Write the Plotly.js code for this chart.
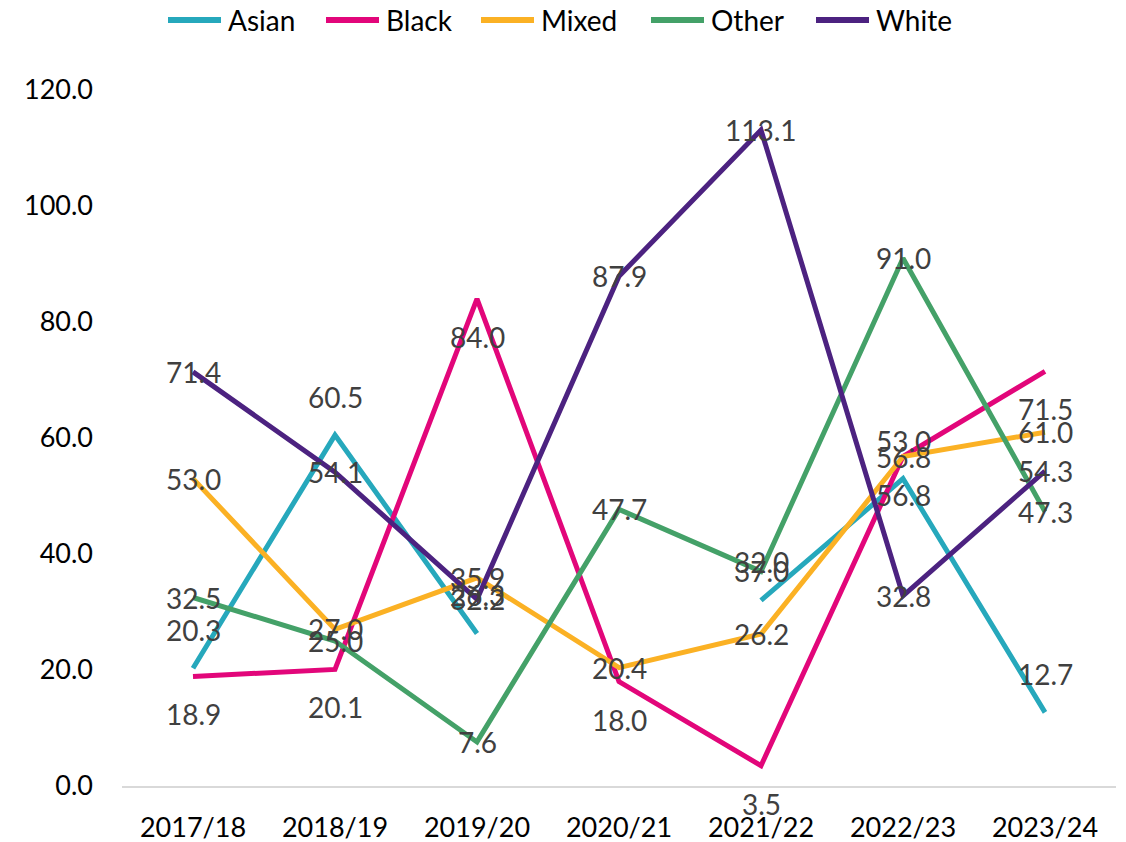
<!DOCTYPE html>
<html>
<head>
<meta charset="utf-8">
<script src="https://cdn.plot.ly/plotly-3.0.1.min.js"></script>
<style>
  html, body { margin: 0; padding: 0; background: #fff; }
  #chart { width: 1126px; height: 842px; }
</style>
</head>
<body>
<div id="chart"></div>
<script>
// School years on the category axis
const years = ["2017/18", "2018/19", "2019/20", "2020/21", "2021/22", "2022/23", "2023/24"];

// Rates by ethnic group (null = no figure for that year)
const asian = [20.3, 60.5, 26.3, null, 32.0, 53.0, 12.7];
const black = [18.9, 20.1, 84.0, 18.0, 3.5, 56.8, 71.5];
const mixed = [53.0, 27.0, 35.9, 20.4, 26.2, 56.8, 61.0];
const other = [32.5, 25.0, 7.6, 47.7, 37.0, 91.0, 47.3];
const white = [71.4, 54.1, 32.2, 87.9, 113.1, 32.8, 54.3];

const yTicks = [0, 20, 40, 60, 80, 100, 120];

const FONT = "Lato, 'Open Sans', sans-serif";

// Plot-area geometry in pixels
const W = 1126, H = 842;
const M = { l: 122, r: 10, t: 90, b: 56 };
const plotW = W - M.l - M.r, plotH = H - M.t - M.b;
const px2x = p => (p - M.l) / plotW;
const py2y = p => (H - M.b - p) / plotH;

// name, values, colour, label offset in px (+ above, - below, 0 centred)
const series = [
  ["Asian", asian, "#26A8BC", 38],
  ["Black", black, "#E2067A", -38],
  ["Mixed", mixed, "#FBB124", 0],
  ["Other", other, "#44A168", 0],
  ["White", white, "#4C2280", 0]
];

const traces = series.map(([name, vals, color]) => ({
  type: "scatter",
  mode: "lines",
  name: name,
  x: years,
  y: vals,
  connectgaps: false,
  line: { color: color, width: 5 },
  showlegend: false,
  hoverinfo: "x+y+name"
}));

// Value labels beside each point
const annotations = [];
series.forEach(([name, vals, color, shift]) => {
  vals.forEach((v, i) => {
    if (v === null) return;
    annotations.push({
      x: years[i], y: v, xref: "x", yref: "y",
      text: v.toFixed(1),
      showarrow: false,
      yshift: shift,
      font: { family: FONT, size: 28, color: "#404040" }
    });
  });
});

// Legend row across the top: long line swatch followed by the name
const legendStarts = [168, 326, 481, 651, 816];
const swatchLen = 53, legendY = 20;
const shapes = [];
series.forEach(([name, vals, color], k) => {
  const x0 = legendStarts[k];
  shapes.push({
    type: "line", xref: "paper", yref: "paper",
    x0: px2x(x0), x1: px2x(x0 + swatchLen),
    y0: py2y(legendY), y1: py2y(legendY),
    line: { color: color, width: 6 }
  });
  annotations.push({
    xref: "paper", yref: "paper",
    x: px2x(x0 + swatchLen + 5), y: py2y(legendY),
    xanchor: "left", yanchor: "middle",
    text: name, showarrow: false,
    font: { family: FONT, size: 28, color: "#000000" }
  });
});

const layout = {
  width: W,
  height: H,
  margin: { l: M.l, r: M.r, t: M.t, b: M.b, autoexpand: false },
  paper_bgcolor: "#ffffff",
  plot_bgcolor: "#ffffff",
  showlegend: false,
  xaxis: {
    type: "category",
    range: [-0.5, 6.5],
    showgrid: false,
    zeroline: false,
    showline: true,
    linecolor: "#D9D9D9",
    linewidth: 1.5,
    ticks: "",
    ticklabelstandoff: 17,
    tickfont: { family: FONT, size: 27, color: "#000000" },
    fixedrange: true
  },
  yaxis: {
    range: [0, 120],
    tickvals: yTicks,
    ticktext: yTicks.map(v => v.toFixed(1)),
    showgrid: false,
    zeroline: false,
    showline: false,
    ticks: "",
    ticklabelstandoff: 28,
    tickfont: { family: FONT, size: 27, color: "#000000" },
    fixedrange: true
  },
  shapes: shapes,
  annotations: annotations
};

Plotly.newPlot("chart", traces, layout, { displayModeBar: false, staticPlot: true });
</script>
</body>
</html>
